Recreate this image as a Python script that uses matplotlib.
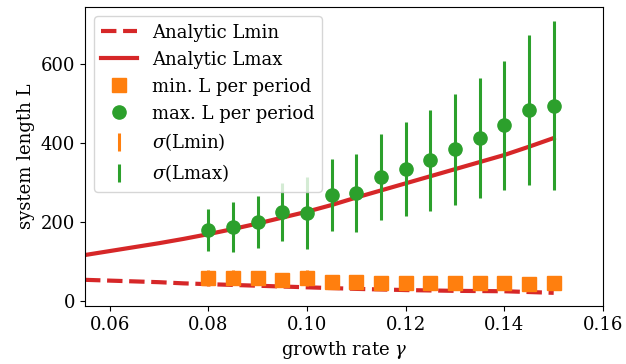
import numpy as np
import matplotlib
matplotlib.use('Agg')
import matplotlib.pyplot as plt

plt.rcParams['font.family'] = 'DejaVu Serif'
plt.rcParams['mathtext.fontset'] = 'dejavuserif'
plt.rcParams['font.size'] = 13

# ── analytic curves ───────────────────────────────────────────────────────────
gamma_line = [0.055, 0.06, 0.065, 0.07, 0.075, 0.08, 0.085, 0.09, 0.095, 0.10,
              0.105, 0.11, 0.115, 0.12, 0.125, 0.13, 0.135, 0.14, 0.145, 0.15]
lmin_analytic = [53, 51, 49, 47, 44, 42, 40, 38, 36, 34,
                 32, 30, 28.5, 27, 26, 25, 24.5, 24, 22, 20]
lmax_analytic = [116, 126, 136, 146, 157, 169, 182, 196, 211, 226,
                 243, 262, 280, 298, 316, 334, 352, 370, 391, 413]

# ── simulation results per growth rate ───────────────────────────────────────
gamma = [0.08, 0.085, 0.09, 0.095, 0.10, 0.105, 0.11, 0.115, 0.12, 0.125,
         0.13, 0.135, 0.14, 0.145, 0.15]
lmin_sim = [58, 58, 57, 53, 57, 48, 48, 46, 46, 46, 44, 44, 44, 42, 44]
lmin_std = [20, 19, 18, 12, 20, 10, 9, 8, 8, 8, 7, 7, 7, 7, 7]
lmax_sim = [180, 187, 200, 225, 222, 269, 274, 314, 334, 356, 385, 413, 445, 484, 495]
lmax_std = [53, 63, 67, 73, 92, 92, 99, 110, 120, 129, 141, 152, 164, 190, 214]

fig = plt.figure(figsize=(6.26, 3.64), dpi=100)
ax = fig.add_axes([0.1358, 0.1593, 0.9633 - 0.1358, 0.98 - 0.1593])

ax.plot(gamma_line, lmin_analytic, '--', color='tab:red', lw=3, label='Analytic Lmin')
ax.plot(gamma_line, lmax_analytic, '-', color='tab:red', lw=3, label='Analytic Lmax')
ax.plot(gamma, lmin_sim, 's', color='tab:orange', ms=9.5, label='min. L per period')
ax.plot(gamma, lmax_sim, 'o', color='tab:green', ms=9.5, label='max. L per period')
ax.errorbar(gamma, lmin_sim, yerr=lmin_std, fmt='none', ecolor='tab:orange',
            elinewidth=2.2, label=r'$\sigma$(Lmin)')
ax.errorbar(gamma, lmax_sim, yerr=lmax_std, fmt='none', ecolor='tab:green',
            elinewidth=2.2, label=r'$\sigma$(Lmax)')

ax.set_xlim(0.055, 0.16)
ax.set_ylim(-13.5, 745)
ax.set_xticks([0.06, 0.08, 0.10, 0.12, 0.14, 0.16])
ax.set_yticks([0, 200, 400, 600])
ax.set_xlabel(r'growth rate $\gamma$')
ax.set_ylabel('system length L')
ax.legend(loc='upper left')

fig.savefig('out.png', dpi=100)
